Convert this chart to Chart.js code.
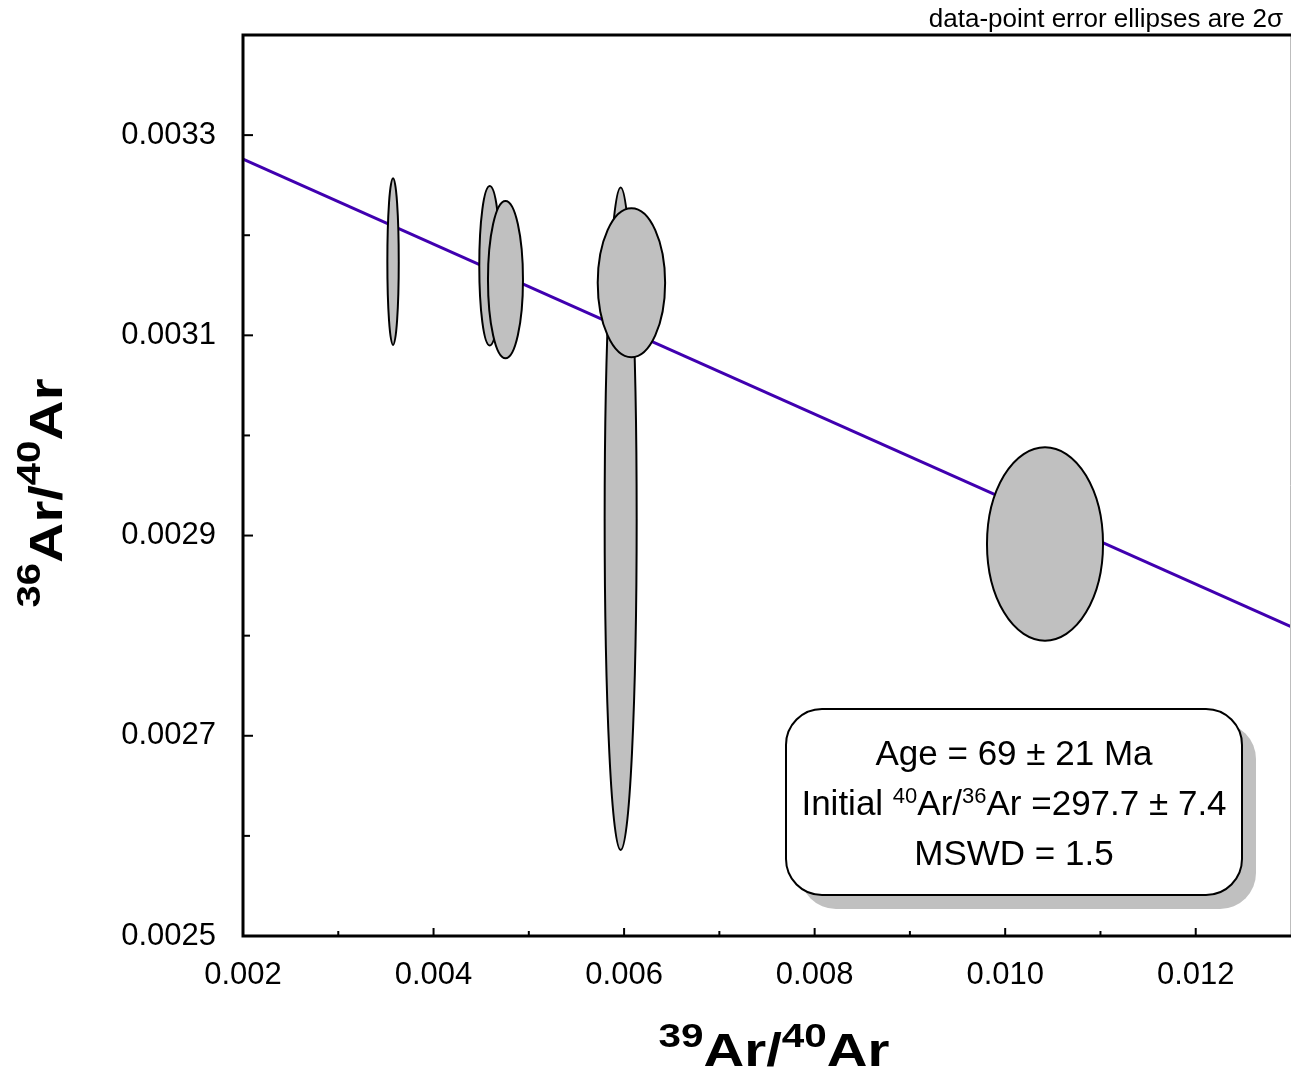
<!DOCTYPE html>
<html>
<head>
<meta charset="utf-8">
<script src="https://cdn.jsdelivr.net/npm/chart.js@4.4.1/dist/chart.umd.min.js"></script>
<style>
  html, body { margin:0; padding:0; background:#fff; }
  #wrap { width:1291px; height:1077px; }
</style>
</head>
<body>
<div id="wrap"><canvas id="iso" width="1291" height="1077"></canvas></div>
<script>
// step centres (39Ar/40Ar, 36Ar/40Ar) and 2-sigma half axes
const stepX = [0.003575, 0.004590, 0.004755, 0.005964, 0.006077, 0.010418];
const stepY = [0.0031736, 0.0031695, 0.0031556, 0.0029168, 0.0031525, 0.0028916];
const errX  = [0.0000598, 0.000110, 0.0001837, 0.000168, 0.0003537, 0.000609];
const errY  = [0.0000832, 0.0000797, 0.0000786, 0.0003309, 0.0000744, 0.0000966];

// isochron end points
const fitX = [0.002, 0.013];
const fitY = [0.003276, 0.002809];

// result box
const resultAge = '69 ± 21 Ma';
const resultInit = '297.7 ± 7.4';
const resultMswd = '1.5';

const FONT = "'Liberation Sans', Arial, sans-serif";

// draws mixed-size text centred on cx; width > 0 stretches it to that width
function drawRich(ctx, parts, cx, base, width){
  let w = 0;
  parts.forEach(p => { ctx.font = p[1]; w += ctx.measureText(p[0]).width; });
  const k = width ? width / w : 1;
  ctx.save();
  ctx.translate(cx - w*k/2, base);
  ctx.scale(k, 1);
  ctx.textAlign = 'left';
  ctx.textBaseline = 'alphabetic';
  let x = 0;
  parts.forEach(p => {
    ctx.font = p[1];
    ctx.fillText(p[0], x, -p[2]);
    x += ctx.measureText(p[0]).width;
  });
  ctx.restore();
}

function roundRect(ctx, x, y, w, h, r){
  ctx.beginPath();
  ctx.moveTo(x+r, y);
  ctx.arcTo(x+w, y, x+w, y+h, r);
  ctx.arcTo(x+w, y+h, x, y+h, r);
  ctx.arcTo(x, y+h, x, y, r);
  ctx.arcTo(x, y, x+w, y, r);
  ctx.closePath();
}

// error ellipses, drawn on top of the fit line
const ellipses = {
  id:'ellipses',
  afterDatasetsDraw(chart){
    const {ctx, chartArea:a, scales:{x, y}} = chart;
    const pts = chart.data.datasets[1].data;
    ctx.save();
    ctx.beginPath(); ctx.rect(a.left, a.top, a.right-a.left, a.bottom-a.top); ctx.clip();
    pts.forEach(p => {
      const cx = x.getPixelForValue(p.x), cy = y.getPixelForValue(p.y);
      const rx = Math.abs(x.getPixelForValue(p.x + p.ex) - cx);
      const ry = Math.abs(y.getPixelForValue(p.y + p.ey) - cy);
      ctx.beginPath();
      ctx.ellipse(cx, cy, rx, ry, 0, 0, Math.PI*2);
      ctx.fillStyle = '#c0c0c0';
      ctx.fill();
      ctx.lineWidth = 2;
      ctx.strokeStyle = '#000';
      ctx.stroke();
    });
    ctx.restore();
  }
};

// frame, inward ticks, titles and the result box
const decor = {
  id:'decor',
  afterDraw(chart){
    const {ctx, chartArea:a, scales:{x, y}} = chart;
    ctx.save();
    ctx.strokeStyle = '#000';
    ctx.lineWidth = 2;
    x.ticks.forEach(t => {
      const px = x.getPixelForValue(t.value);
      if (px < a.left+2 || px > a.right-2) return;
      const len = t.label ? 8 : 5;
      ctx.beginPath(); ctx.moveTo(px, a.bottom); ctx.lineTo(px, a.bottom-len); ctx.stroke();
    });
    y.ticks.forEach(t => {
      const py = y.getPixelForValue(t.value);
      if (py < a.top+2 || py > a.bottom-2) return;
      const len = t.label ? 10 : 7;
      ctx.beginPath(); ctx.moveTo(a.left, py); ctx.lineTo(a.left+len, py); ctx.stroke();
    });

    // right edge
    ctx.strokeStyle = '#bdbdbd'; ctx.lineWidth = 1;
    ctx.beginPath(); ctx.moveTo(a.right-0.5, a.top); ctx.lineTo(a.right-0.5, a.bottom); ctx.stroke();
    // top, left, bottom
    ctx.strokeStyle = '#000'; ctx.lineWidth = 3;
    ctx.beginPath();
    ctx.moveTo(chart.width, a.top);
    ctx.lineTo(a.left, a.top);
    ctx.lineTo(a.left, a.bottom);
    ctx.lineTo(chart.width, a.bottom);
    ctx.stroke();

    ctx.fillStyle = '#000';
    ctx.font = '26px ' + FONT;
    ctx.textAlign = 'right';
    ctx.textBaseline = 'alphabetic';
    ctx.fillText('data-point error ellipses are 2σ', 1283, 27);

    // axis titles
    const big = 'bold 46px ' + FONT, sup = 'bold 33px ' + FONT;
    drawRich(ctx, [['39', sup, 19], ['Ar/', big, 0], ['40', sup, 19], ['Ar', big, 0]], 774, 1066, 231);
    ctx.save();
    ctx.translate(62, 493);
    ctx.rotate(-Math.PI/2);
    drawRich(ctx, [['36', sup, 22], ['Ar/', big, 0], ['40', sup, 22], ['Ar', big, 0]], 0, 0, 229);
    ctx.restore();

    // result box with shadow
    const bx = 786, by = 709, bw = 456, bh = 186;
    ctx.fillStyle = '#c0c0c0';
    roundRect(ctx, bx+14, by+14, bw, bh, 36); ctx.fill();
    ctx.fillStyle = '#fff';
    roundRect(ctx, bx, by, bw, bh, 36); ctx.fill();
    ctx.lineWidth = 2; ctx.strokeStyle = '#000'; ctx.stroke();

    ctx.fillStyle = '#000';
    const f = '35px ' + FONT, fs = '22px ' + FONT;
    const cx = bx + bw/2;
    drawRich(ctx, [['Age = ' + resultAge, f, 0]], cx, 765);
    drawRich(ctx, [['Initial ', f, 0], ['40', fs, 12], ['Ar/', f, 0], ['36', fs, 12], ['Ar =' + resultInit, f, 0]], cx, 815);
    drawRich(ctx, [['MSWD = ' + resultMswd, f, 0]], cx, 865);
    ctx.restore();
  }
};

const steps = stepX.map((v, i) => ({ x:v, y:stepY[i], ex:errX[i], ey:errY[i] }));
const fit = fitX.map((v, i) => ({ x:v, y:fitY[i] }));

new Chart(document.getElementById('iso'), {
  type:'scatter',
  data:{ datasets:[
    { data:fit, showLine:true, borderColor:'#4000b0', borderWidth:3, pointRadius:0, fill:false },
    { data:steps, pointRadius:0, showLine:false }
  ]},
  options:{
    responsive:false,
    animation:false,
    events:[],
    layout:{ padding:{ top:35, right:0, left:0, bottom:0 } },
    plugins:{ legend:{ display:false }, tooltip:{ enabled:false } },
    scales:{
      x:{
        type:'linear', min:0.002, max:0.013,
        grid:{ display:false, drawTicks:false }, border:{ display:false },
        afterFit(s){ s.height = 141; s.paddingLeft = 0; s.paddingRight = 0; },
        ticks:{ stepSize:0.001, autoSkip:false, maxRotation:0, padding:21, color:'#000',
          font:{ family:FONT, size:31 },
          callback:v => Math.round(v*1000) % 2 === 0 ? v.toFixed(3) : '' }
      },
      y:{
        type:'linear', min:0.0025, max:0.0034,
        grid:{ display:false, drawTicks:false }, border:{ display:false },
        afterFit(s){ s.width = 243; s.paddingTop = 0; s.paddingBottom = 0; },
        ticks:{ stepSize:0.0001, autoSkip:false, padding:27, color:'#000',
          font:{ family:FONT, size:31 },
          callback:v => Math.round(v*10000) % 2 === 1 ? v.toFixed(4) : '' }
      }
    }
  },
  plugins:[ellipses, decor]
});
</script>
</body>
</html>
